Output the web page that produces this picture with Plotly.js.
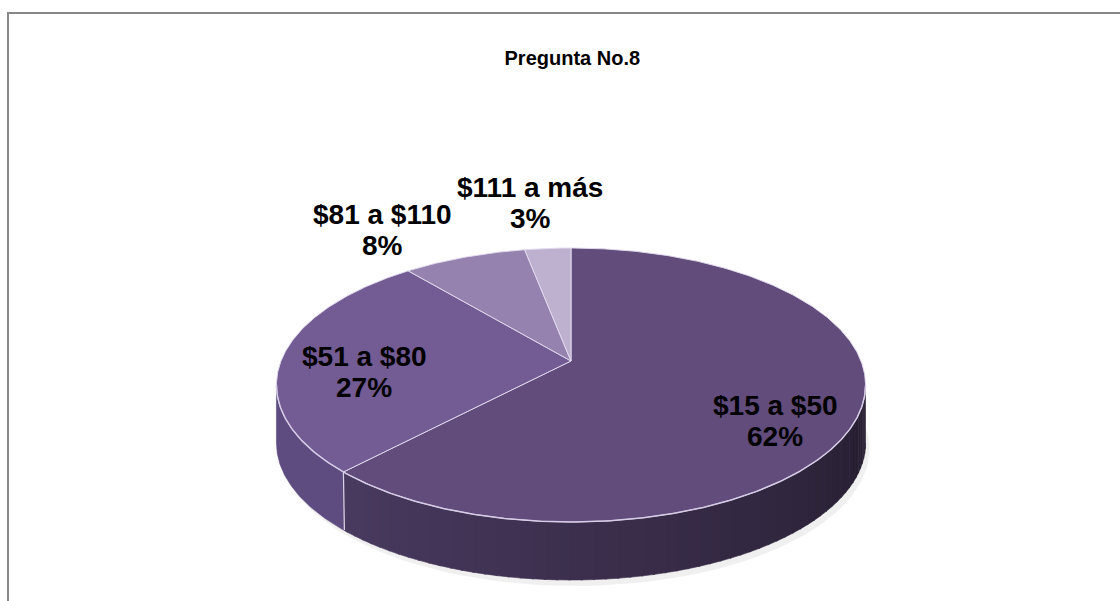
<!DOCTYPE html>
<html>
<head>
<meta charset="utf-8">
<script src="https://cdn.plot.ly/plotly-3.0.1.min.js"></script>
<style>html,body{margin:0;padding:0;background:#fff;}#chart{width:1120px;height:601px;}</style>
</head>
<body>
<div id="chart"></div>
<script>
// ---- data ----
const chartTitle = 'Pregunta No.8';
const categories = ['$15 a $50', '$51 a $80', '$81 a $110', '$111 a más'];
const percents = [62, 27, 8, 3];

// ---- style / layout (not data) ----
const topColors = ['#614C7B', '#735B94', '#9682AE', '#BDB1CF'];
const sideSolid = [null, 'rgb(94,76,128)', 'rgb(130,112,158)', 'rgb(170,160,190)'];
const labelX = [775, 364, 382, 530];
const labelY = [405, 356, 214, 187];
const lineGap = 31;
const edgeColor = 'rgba(225,218,238,0.95)';

// projection of the tilted disc (pixel space axes)
const CX = 571, CY = 361, K = 290, A = 132.8, C = -0.1752, DEPTH = 58;
function P(phiDeg) {
  const r = phiDeg * Math.PI / 180;
  const u = Math.sin(r), v = -Math.cos(r), w = 1 + C * v;
  return [CX + K * u / w, CY + A * v / w];
}
const VIS0 = 100.1, VIS1 = 259.9; // visible side range (degrees clockwise from top)

const total = percents.reduce((s, v) => s + v, 0);
const starts = [], ends = [];
let acc = 0;
percents.forEach(p => { starts.push(acc / total * 360); acc += p; ends.push(acc / total * 360); });

const traces = [];
function arc(a0, a1, step) {
  const pts = []; const n = Math.max(2, Math.ceil((a1 - a0) / step));
  for (let i = 0; i <= n; i++) pts.push(P(a0 + (a1 - a0) * i / n));
  return pts;
}
function poly(pts, fill, lineColor, lineWidth) {
  traces.push({
    type: 'scatter', mode: 'lines', x: pts.map(p => p[0]), y: pts.map(p => p[1]),
    fill: 'toself', fillcolor: fill, line: {color: lineColor, width: lineWidth},
    hoverinfo: 'skip', showlegend: false
  });
}
function lineTrace(pts, color, width) {
  traces.push({
    type: 'scatter', mode: 'lines', x: pts.map(p => p[0]), y: pts.map(p => p[1]),
    line: {color: color, width: width}, hoverinfo: 'skip', showlegend: false
  });
}
function lerpColor(t) {
  const d = [36, 28, 46], l = [84, 67, 110];
  const c = d.map((v, i) => Math.round(v + (l[i] - v) * t));
  return 'rgb(' + c.join(',') + ')';
}

// soft shadow
const shadow = arc(VIS0 - 10, VIS1 + 10, 2).map(p => [p[0] + 4, p[1] + DEPTH + 6]);
poly(shadow.concat(arc(VIS0 - 10, VIS1 + 10, 2).reverse().map(p => [p[0], p[1] + DEPTH - 10])), 'rgba(0,0,0,0.06)', 'rgba(0,0,0,0)', 0);

// sides
categories.forEach((cat, i) => {
  const a0 = Math.max(starts[i], VIS0), a1 = Math.min(ends[i], VIS1);
  if (a1 <= a0) return;
  if (i === 0) {
    const stripStep = 2;
    for (let s = a0; s < a1; s += stripStep) {
      const e = Math.min(a1, s + stripStep + 0.3);
      const top = arc(s, e, 0.5);
      const bot = top.map(p => [p[0], p[1] + DEPTH]).reverse();
      const col = lerpColor(((s + e) / 2 - VIS0) / (VIS1 - VIS0));
      poly(top.concat(bot), col, col, 0.6);
    }
  } else {
    const top = arc(a0, a1, 0.5);
    const bot = top.map(p => [p[0], p[1] + DEPTH]).reverse();
    poly(top.concat(bot), sideSolid[i], sideSolid[i], 0.6);
  }
});
// vertical edges at slice boundaries on visible side
starts.forEach(a => {
  if (a > VIS0 && a < VIS1) { const p = P(a); lineTrace([p, [p[0] + 1, p[1] + DEPTH]], edgeColor, 1.2); }
});

// top faces
categories.forEach((cat, i) => {
  const pts = [[CX, CY]].concat(arc(starts[i], ends[i], 0.5)).concat([[CX, CY]]);
  poly(pts, topColors[i], edgeColor, 1);
});
// highlight rim at the front
lineTrace(arc(VIS0, VIS1, 0.5), 'rgba(215,205,232,0.9)', 1.5);

// labels
const annotations = [];
categories.forEach((cat, i) => {
  const f = {family: 'Liberation Sans, Arial, sans-serif', size: 28, color: '#000'};
  annotations.push({x: labelX[i], y: labelY[i], xref: 'x', yref: 'y', text: '<b>' + cat + '</b>', showarrow: false, font: f, xanchor: 'center', yanchor: 'middle'});
  annotations.push({x: labelX[i], y: labelY[i] + lineGap, xref: 'x', yref: 'y', text: '<b>' + percents[i] + '%</b>', showarrow: false, font: f, xanchor: 'center', yanchor: 'middle'});
});

const layout = {
  width: 1120, height: 601,
  margin: {l: 0, r: 0, t: 0, b: 0},
  paper_bgcolor: '#ffffff', plot_bgcolor: '#ffffff',
  title: {text: '<b>' + chartTitle + '</b>', x: 0.511, xanchor: 'center', y: 1 - 58 / 601, yanchor: 'middle',
          font: {family: 'Liberation Sans, Arial, sans-serif', size: 20, color: '#000'}},
  xaxis: {range: [0, 1120], visible: false, fixedrange: true},
  yaxis: {range: [601, 0], visible: false, fixedrange: true},
  shapes: [{type: 'rect', xref: 'x', yref: 'y', x0: 8, y0: 13, x1: 1140, y1: 640, line: {color: '#888888', width: 2}, fillcolor: 'rgba(0,0,0,0)', layer: 'below'}],
  annotations: annotations,
  showlegend: false
};
Plotly.newPlot('chart', traces, layout, {staticPlot: true, displayModeBar: false});
</script>
</body>
</html>
